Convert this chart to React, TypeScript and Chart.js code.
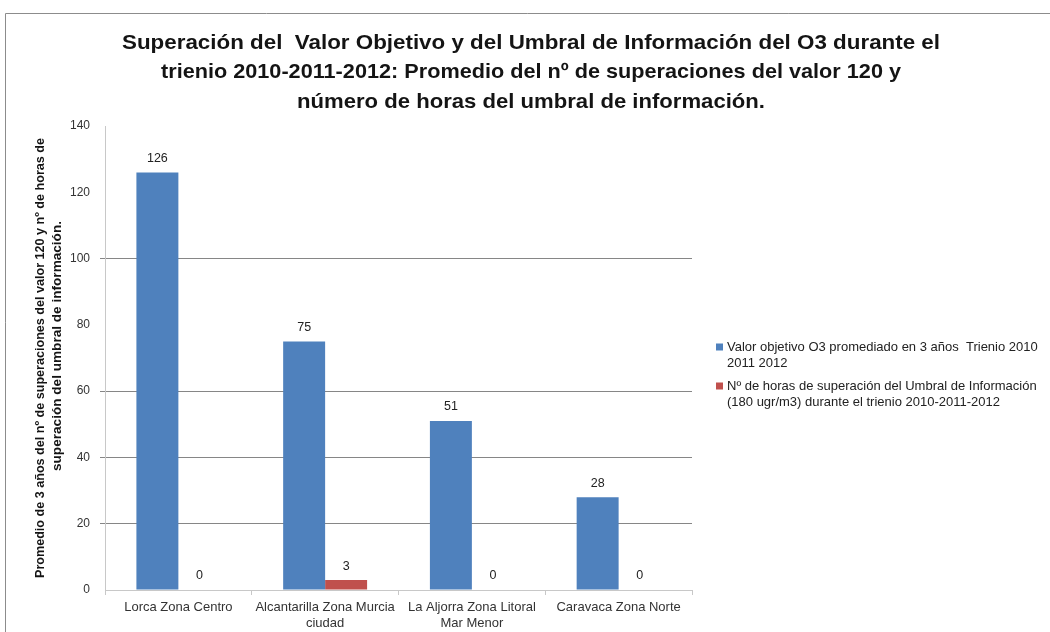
import React, { useEffect, useRef } from "react";
import { Chart, registerables } from "chart.js";

Chart.register(...registerables);

const categories: string[][] = [
  ["Lorca Zona Centro"],
  ["Alcantarilla Zona Murcia", "ciudad"],
  ["La Aljorra Zona Litoral", "Mar Menor"],
  ["Caravaca Zona Norte"],
];
const valorObjetivo = [126, 75, 51, 28];
const horasUmbral = [0, 3, 0, 0];
const seriesNames = [
  ["Valor objetivo O3 promediado en 3 años  Trienio 2010", "2011 2012"],
  ["Nº de horas de superación del Umbral de Información", "(180 ugr/m3) durante el trienio 2010-2011-2012"],
];
const seriesColors = ["#4F81BD", "#C0504D"];
const titleLines = [
  "Superación del  Valor Objetivo y del Umbral de Información del O3 durante el",
  "trienio 2010-2011-2012: Promedio del nº de superaciones del valor 120 y",
  "número de horas del umbral de información.",
];
const yTitleLines = [
  "Promedio de 3 años del nº de superaciones del valor 120 y nº de horas de",
  "superación del umbral de información.",
];
const yMin = 0;
const yMax = 140;
const yStep = 20;
const hiddenGridValues = [0, 80, 120, 140];

const FONT = "'Liberation Sans', Arial, sans-serif";

function fitText(ctx: CanvasRenderingContext2D, text: string, cx: number, cy: number, target: number) {
  const w = ctx.measureText(text).width;
  const s = target / w;
  ctx.save();
  ctx.translate(cx, cy);
  ctx.scale(s, 1);
  ctx.textAlign = "center";
  ctx.fillText(text, 0, 0);
  ctx.restore();
}

const decorPlugin = {
  id: "decor",
  beforeDraw(chart: any) {
    const ctx = chart.ctx;
    ctx.save();
    ctx.fillStyle = "#ffffff";
    ctx.fillRect(0, 0, chart.width, chart.height);
    ctx.strokeStyle = "#8c8c8c";
    ctx.lineWidth = 1;
    ctx.beginPath();
    ctx.moveTo(5.5, chart.height);
    ctx.lineTo(5.5, 13.5);
    ctx.lineTo(chart.width, 13.5);
    ctx.stroke();
    ctx.restore();
  },
  afterDraw(chart: any) {
    const ctx = chart.ctx;
    ctx.save();
    // Title
    ctx.fillStyle = "#141414";
    ctx.font = `bold 21px ${FONT}`;
    ctx.textBaseline = "middle";
    const titleWidths = [818, 740, 468];
    titleLines.forEach((line, i) => {
      fitText(ctx, line, 531, 43 + i * 29.5, titleWidths[i]);
    });
    // Y axis title
    ctx.save();
    ctx.rotate(-Math.PI / 2);
    ctx.font = `bold 13px ${FONT}`;
    ctx.fillStyle = "#141414";
    const yWidths = [440, 250];
    const yCenters = [358, 346];
    const xPos = [40, 57];
    yTitleLines.forEach((line, i) => {
      fitText(ctx, line, -yCenters[i], xPos[i], yWidths[i]);
    });
    ctx.restore();
    // Data labels
    ctx.font = `12.5px ${FONT}`;
    ctx.fillStyle = "#222222";
    ctx.textAlign = "center";
    ctx.textBaseline = "middle";
    chart.data.datasets.forEach((ds: any, di: number) => {
      const meta = chart.getDatasetMeta(di);
      meta.data.forEach((el: any, i: number) => {
        ctx.fillText(String(ds.data[i]), el.x, el.y - 14);
      });
    });
    // Legend
    ctx.textAlign = "left";
    ctx.font = `13px ${FONT}`;
    const legendY = [347, 386];
    seriesNames.forEach((lines, i) => {
      ctx.fillStyle = seriesColors[i];
      ctx.fillRect(716, legendY[i] - 3.5, 7, 7);
      ctx.fillStyle = "#222222";
      lines.forEach((l, j) => {
        ctx.fillText(l, 727, legendY[i] + j * 16.5);
      });
    });
    ctx.restore();
  },
};

export default function App() {
  const ref = useRef<HTMLCanvasElement>(null);
  useEffect(() => {
    if (!ref.current) return;
    const chart = new Chart(ref.current, {
      type: "bar",
      data: {
        labels: categories,
        datasets: [
          {
            label: seriesNames[0].join(" "),
            data: valorObjetivo,
            backgroundColor: seriesColors[0],
            categoryPercentage: 0.572,
            barPercentage: 1,
          },
          {
            label: seriesNames[1].join(" "),
            data: horasUmbral,
            backgroundColor: seriesColors[1],
            categoryPercentage: 0.572,
            barPercentage: 1,
          },
        ],
      },
      options: {
        animation: false,
        responsive: false,
        devicePixelRatio: 1,
        layout: { padding: { left: 0, top: 126, right: 358, bottom: 0 } },
        plugins: {
          legend: { display: false },
          title: { display: false },
          tooltip: { enabled: false },
        },
        scales: {
          x: {
            afterFit(scale: any) {
              scale.height = 42;
            },
            border: { color: "#c8c8c8" },
            grid: {
              drawOnChartArea: false,
              drawTicks: true,
              tickLength: 5,
              color: "#c8c8c8",
            },
            ticks: {
              padding: 4,
              color: "#333333",
              font: { family: FONT, size: 13, lineHeight: 1.25 },
              maxRotation: 0,
              autoSkip: false,
            },
          },
          y: {
            min: yMin,
            max: yMax,
            afterFit(scale: any) {
              scale.width = 105;
            },
            border: { color: "#c8c8c8" },
            grid: {
              tickLength: 5,
              color: (c: any) =>
                hiddenGridValues.includes(c.tick?.value) ? "rgba(0,0,0,0)" : "#868686",
            },
            ticks: {
              stepSize: yStep,
              padding: 10,
              color: "#333333",
              font: { family: FONT, size: 12 },
            },
          },
        },
      },
      plugins: [decorPlugin],
    });
    return () => chart.destroy();
  }, []);
  return (
    <div style={{ position: "absolute", left: 0, top: 0, width: 1050, height: 632, background: "#fff" }}>
      <canvas ref={ref} width={1050} height={632} style={{ width: 1050, height: 632, display: "block" }} />
    </div>
  );
}
